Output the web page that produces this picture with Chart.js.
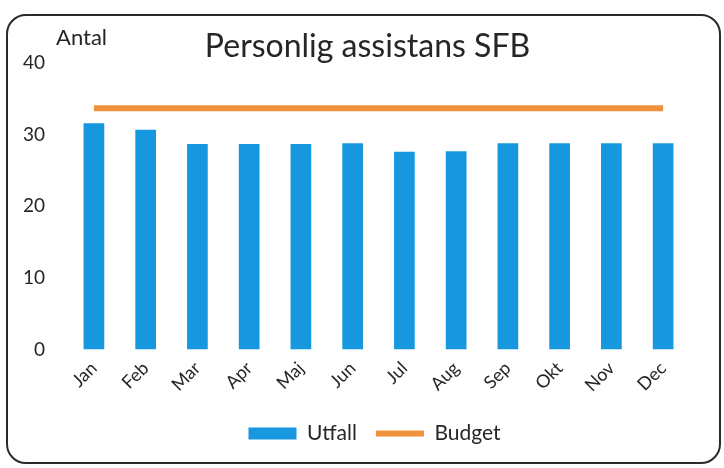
<!DOCTYPE html>
<html>
<head>
<meta charset="utf-8">
<script src="https://cdn.jsdelivr.net/npm/chart.js@4/dist/chart.umd.min.js"></script>
<style>
  html, body { margin: 0; padding: 0; background: #fff; }
  #wrap { position: relative; width: 724px; height: 468px; }
  #frame { position: absolute; left: 6px; top: 14px; width: 711px; height: 446px;
           border: 2px solid #2a2a2a; border-radius: 20px; pointer-events: none; }
  canvas { position: absolute; left: 0; top: 0; }
</style>
</head>
<body>
<div id="wrap">
  <canvas id="c" width="724" height="468"></canvas>
  <div id="frame"></div>
</div>
<script>
const months = ["Jan","Feb","Mar","Apr","Maj","Jun","Jul","Aug","Sep","Okt","Nov","Dec"];
const utfall = [31.6, 30.7, 28.7, 28.7, 28.7, 28.8, 27.6, 27.7, 28.8, 28.8, 28.8, 28.8];
const budget = [33.7, 33.7, 33.7, 33.7, 33.7, 33.7, 33.7, 33.7, 33.7, 33.7, 33.7, 33.7];
const yTicks = [0, 10, 20, 30, 40];
const titleText = "Personlig assistans SFB";
const yAxisLabel = "Antal";

const FONT = "Lato, 'Open Sans', sans-serif";
const TEXT = "#262626";

const antalPlugin = {
  id: 'antal',
  afterLayout(chart) {
    const ca = chart.chartArea;
    if (chart.titleBlock) { chart.titleBlock.left = ca.left - 22; chart.titleBlock.right = ca.right; }
    if (chart.legend) { chart.legend.left = ca.left - 8; chart.legend.right = ca.right; }
  },
  afterDraw(chart) {
    const { ctx, chartArea } = chart;
    ctx.save();
    ctx.font = "22px " + FONT;
    ctx.fillStyle = TEXT;
    ctx.textAlign = "left";
    ctx.textBaseline = "middle";
    ctx.fillText(yAxisLabel, chartArea.left - 12, chartArea.top - 25);
    ctx.restore();
  }
};

new Chart(document.getElementById('c'), {
  data: {
    labels: months,
    datasets: [
      {
        type: 'line',
        label: 'Budget',
        data: budget,
        borderColor: '#f0913c',
        backgroundColor: '#f0913c',
        borderWidth: 6,
        pointRadius: 0,
        pointStyle: 'line',
        order: 0
      },
      {
        type: 'bar',
        label: 'Utfall',
        data: utfall,
        backgroundColor: '#1798de',
        borderWidth: 0,
        barPercentage: 0.8,
        categoryPercentage: 0.5,
        pointStyle: 'rect',
        order: 1
      }
    ]
  },
  options: {
    responsive: false,
    animation: false,
    layout: { autoPadding: false, padding: { left: 0, right: 35, top: 10, bottom: 14 } },
    plugins: {
      title: {
        display: true,
        text: titleText,
        color: TEXT,
        font: { family: FONT, size: 32, weight: 'normal', lineHeight: 1.0 },
        padding: { top: 21, bottom: 0 }
      },
      legend: {
        position: 'bottom',
        reverse: true,
        labels: {
          color: TEXT,
          font: { family: FONT, size: 21 },
          usePointStyle: true,
          pointStyleWidth: 48,
          boxHeight: 12,
          padding: 19
        }
      },
      tooltip: { enabled: false }
    },
    scales: {
      x: {
        grid: { display: false, drawTicks: false },
        border: { display: false },
        ticks: {
          color: TEXT,
          font: { family: FONT, size: 18 },
          maxRotation: 45,
          minRotation: 45,
          padding: 8
        }
      },
      y: {
        min: 0,
        max: 40,
        afterBuildTicks(axis) { axis.ticks = yTicks.map(v => ({ value: v })); },
        grid: { display: false, drawTicks: false },
        border: { display: false },
        ticks: {
          color: TEXT,
          font: { family: FONT, size: 19 },
          padding: 23
        }
      }
    }
  },
  plugins: [antalPlugin]
});
</script>
</body>
</html>
